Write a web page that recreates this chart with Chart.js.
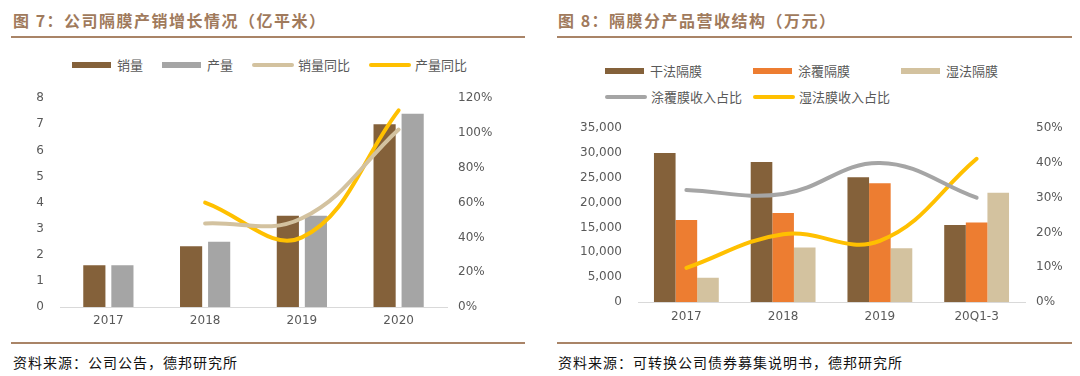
<!DOCTYPE html>
<html>
<head>
<meta charset="utf-8">
<script src="https://cdn.jsdelivr.net/npm/chart.js@4.4.1/dist/chart.umd.min.js"></script>
<style>
  body { margin: 0; width: 1080px; height: 376px; background: #fff; position: relative; overflow: hidden;
         font-family: "Noto Sans CJK SC", sans-serif; }
  .title { position: absolute; top: 9px; font-size: 16px; font-weight: bold; color: #A07A5C;
           letter-spacing: 1.5px; line-height: 22px; white-space: nowrap; }
  .rule { position: absolute; height: 2px; background: #A98467; }
  .source { position: absolute; top: 352px; font-size: 14px; letter-spacing: 1px; color: #111;
            line-height: 20px; white-space: nowrap; }
  .legend { position: absolute; font-size: 13px; color: #595959; line-height: 16px; }
  .item { display: flex; align-items: center; white-space: nowrap; }
  .box { width: 39px; height: 6px; margin-right: 6px; }
  .line { width: 42px; height: 4px; border-radius: 2px; margin-right: 4px; }
  .wrap { position: absolute; }
  .wrap canvas { display: block; }
</style>
</head>
<body>

<div class="title" style="left:13px">图 7：公司隔膜产销增长情况（亿平米）</div>
<div class="rule" style="left:11px;width:514px;top:36px"></div>
<div class="legend" id="legend1" style="left:72px;top:57px;display:flex;gap:19px"></div>
<div class="wrap" style="left:0;top:75px"><canvas id="chart1" width="540" height="260"></canvas></div>
<div class="rule" style="left:11px;width:514px;top:342px"></div>
<div class="source" style="left:13px">资料来源：公司公告，德邦研究所</div>

<div class="title" style="left:558px">图 8：隔膜分产品营收结构（万元）</div>
<div class="rule" style="left:557px;width:515px;top:36px"></div>
<div class="legend" id="legend2" style="left:605px;top:63px;display:grid;grid-template-columns:148px 148px 148px;row-gap:10px"></div>
<div class="wrap" style="left:540px;top:105px"><canvas id="chart2" width="540" height="230"></canvas></div>
<div class="rule" style="left:557px;width:515px;top:342px"></div>
<div class="source" style="left:558px">资料来源：可转换公司债券募集说明书，德邦研究所</div>

<script>
// 图7 数据（亿平米 / 同比）
const years1 = ['2017', '2018', '2019', '2020'];
const salesVol = [1.6, 2.33, 3.5, 7.0];
const prodVol = [1.6, 2.5, 3.5, 7.4];
const salesYoY = [null, 0.48, 0.51, 1.02];
const prodYoY = [null, 0.60, 0.40, 1.13];

// 图8 数据（万元 / 占比）
const years2 = ['2017', '2018', '2019', '20Q1-3'];
const dryFilm = [30000, 28200, 25100, 15500];
const coatedFilm = [16500, 17900, 23900, 16000];
const wetFilm = [4900, 11000, 10800, 22000];
const coatedShare = [0.322, 0.311, 0.40, 0.30];
const wetShare = [0.098, 0.195, 0.176, 0.412];

const BROWN = '#84613A', GRAY = '#A5A5A5', TAN = '#D3C29F', YELLOW = '#FFC000', ORANGE = '#ED7D31';

Chart.defaults.font.family = '"DejaVu Sans", sans-serif';
Chart.defaults.font.size = 12;
Chart.defaults.color = '#595959';
Chart.defaults.animation = false;

const pct = v => Math.round(v * 100) + '%';

function lineSet(label, data, color) {
  return {
    type: 'line', label, data, yAxisID: 'y1', order: 0,
    borderColor: color, backgroundColor: color, borderWidth: 4,
    borderCapStyle: 'round', tension: 0.4, pointRadius: 0, spanGaps: false
  };
}

// 坐标轴：左轴宽 leftW，右轴宽 rightW，x 轴高 xH
function axes(leftMax, leftStep, leftFmt, rightMax, rightStep, leftW, rightW, xH, xPad) {
  return {
    x: {
      grid: { display: false, drawTicks: false },
      border: { display: true, color: '#D9D9D9', width: 1 },
      ticks: { padding: xPad },
      afterFit: s => { s.height = xH; }
    },
    y: {
      position: 'left', min: 0, max: leftMax,
      grid: { display: false, drawTicks: false },
      border: { display: false },
      ticks: { stepSize: leftStep, padding: 16, callback: leftFmt },
      afterFit: s => { s.width = leftW; }
    },
    y1: {
      position: 'right', min: 0, max: rightMax,
      grid: { display: false, drawTicks: false },
      border: { display: false },
      ticks: { stepSize: rightStep, padding: 11, callback: pct },
      afterFit: s => { s.width = rightW; }
    }
  };
}

function buildLegend(el, chart) {
  chart.data.datasets.forEach(ds => {
    const item = document.createElement('div');
    item.className = 'item';
    const mark = document.createElement('span');
    mark.className = ds.type === 'line' ? 'line' : 'box';
    mark.style.background = ds.type === 'line' ? ds.borderColor : ds.backgroundColor;
    const txt = document.createElement('span');
    txt.textContent = ds.label;
    item.appendChild(mark);
    item.appendChild(txt);
    el.appendChild(item);
  });
}

const chart1 = new Chart(document.getElementById('chart1'), {
  type: 'bar',
  data: {
    labels: years1,
    datasets: [
      { label: '销量', data: salesVol, backgroundColor: BROWN, order: 1, categoryPercentage: 0.58, barPercentage: 0.79 },
      { label: '产量', data: prodVol, backgroundColor: GRAY, order: 1, categoryPercentage: 0.58, barPercentage: 0.79 },
      lineSet('销量同比', salesYoY, TAN),
      lineSet('产量同比', prodYoY, YELLOW)
    ]
  },
  options: {
    responsive: false,
    plugins: { legend: { display: false }, tooltip: { enabled: false } },
    scales: axes(8, 1, v => v, 1.2, 0.2, 60, 93, 28, 7)
  }
});

const chart2 = new Chart(document.getElementById('chart2'), {
  type: 'bar',
  data: {
    labels: years2,
    datasets: [
      { label: '干法隔膜', data: dryFilm, backgroundColor: BROWN, order: 1, categoryPercentage: 0.67, barPercentage: 1 },
      { label: '涂覆隔膜', data: coatedFilm, backgroundColor: ORANGE, order: 1, categoryPercentage: 0.67, barPercentage: 1 },
      { label: '湿法隔膜', data: wetFilm, backgroundColor: TAN, order: 1, categoryPercentage: 0.67, barPercentage: 1 },
      lineSet('涂覆膜收入占比', coatedShare, GRAY),
      lineSet('湿法膜收入占比', wetShare, YELLOW)
    ]
  },
  options: {
    responsive: false,
    plugins: { legend: { display: false }, tooltip: { enabled: false } },
    scales: axes(35000, 5000, v => v.toLocaleString('en-US'), 0.5, 0.1, 98, 55, 33, 8)
  }
});

buildLegend(document.getElementById('legend1'), chart1);
buildLegend(document.getElementById('legend2'), chart2);
</script>
</body>
</html>
